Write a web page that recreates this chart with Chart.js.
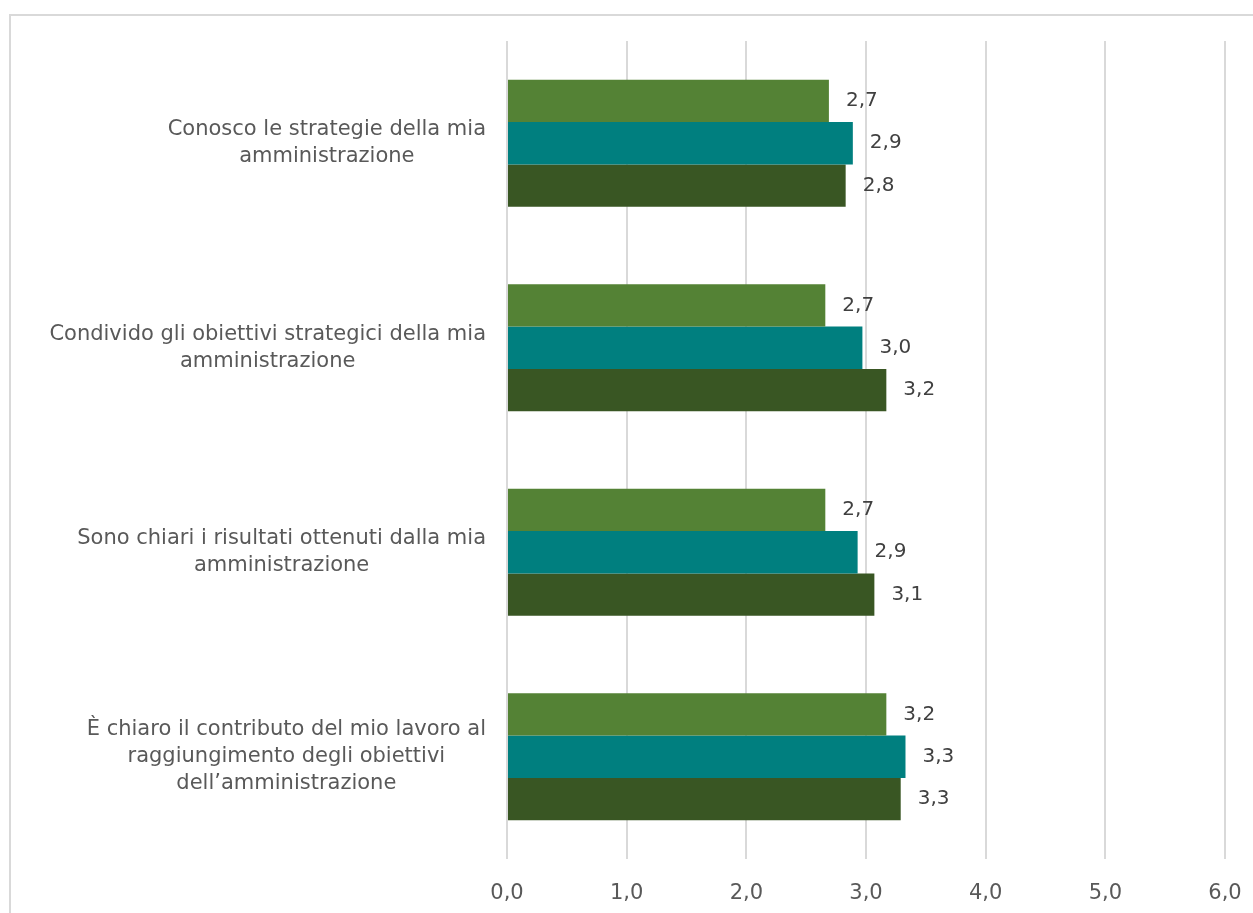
<!DOCTYPE html>
<html>
<head>
<meta charset="utf-8">
<script src="https://cdn.jsdelivr.net/npm/chart.js@4/dist/chart.umd.min.js"></script>
<style>
  body { margin: 0; background: #fff; overflow: hidden; }
  #frame { position: absolute; left: 9px; top: 14px; width: 1400px; height: 1000px;
           border-top: 2px solid #d9d9d9; border-left: 2px solid #d9d9d9; }
  #wrap { position: absolute; left: 0; top: 0; width: 1253px; height: 913px; }
</style>
</head>
<body>
<div id="frame"></div>
<div id="wrap"><canvas id="myChart" width="1253" height="913"></canvas></div>
<script>
const categories = [
    ['Conosco le strategie della mia', 'amministrazione'],
    ['Condivido gli obiettivi strategici della mia', 'amministrazione'],
    ['Sono chiari i risultati ottenuti dalla mia', 'amministrazione'],
    ['È chiaro il contributo del mio lavoro al', 'raggiungimento degli obiettivi', 'dell\u2019amministrazione']
];
const seriesNames = ['Serie 1', 'Serie 2', 'Serie 3'];
const serie1 = [2.69, 2.66, 2.66, 3.17];
const serie2 = [2.89, 2.97, 2.93, 3.33];
const serie3 = [2.83, 3.17, 3.07, 3.29];
const seriesColors = ['#548235', '#007f7f', '#395623'];
const xMin = 0, xMax = 6, xStep = 1;

const fmt = v => v.toFixed(1).replace('.', ',');
const FONT = "'DejaVu Sans', Verdana, sans-serif";

// value labels to the right of each bar
const valueLabels = {
    id: 'valueLabels',
    afterDatasetsDraw(chart) {
        const ctx = chart.ctx;
        ctx.save();
        ctx.font = '20px ' + FONT;
        ctx.fillStyle = '#404040';
        ctx.textAlign = 'left';
        ctx.textBaseline = 'middle';
        chart.data.datasets.forEach((ds, i) => {
            chart.getDatasetMeta(i).data.forEach((bar, j) => {
                ctx.fillText(fmt(ds.data[j]), bar.x + 17, bar.y);
            });
        });
        ctx.restore();
    }
};

// category labels: lines centred on each other, block right-aligned next to the axis
const categoryLabels = {
    id: 'categoryLabels',
    afterDraw(chart) {
        const ctx = chart.ctx;
        const yScale = chart.scales.y;
        const right = 486, lineH = 27;
        ctx.save();
        ctx.font = '21px ' + FONT;
        ctx.fillStyle = '#595959';
        ctx.textAlign = 'center';
        ctx.textBaseline = 'middle';
        categories.forEach((lines, i) => {
            const w = Math.max(...lines.map(l => ctx.measureText(l).width));
            const cx = right - w / 2;
            const cy = yScale.getPixelForValue(i);
            lines.forEach((l, k) => {
                ctx.fillText(l, cx, cy + (k - (lines.length - 1) / 2) * lineH);
            });
        });
        ctx.restore();
    }
};

new Chart(document.getElementById('myChart'), {
    type: 'bar',
    data: {
        labels: categories,
        datasets: [serie1, serie2, serie3].map((d, i) => ({
            label: seriesNames[i],
            data: d,
            backgroundColor: seriesColors[i],
            categoryPercentage: 0.62,
            barPercentage: 1.0
        }))
    },
    options: {
        indexAxis: 'y',
        responsive: false,
        animation: false,
        layout: { padding: { top: 41, right: 28, left: 0, bottom: 0 } },
        plugins: {
            legend: { display: false },
            tooltip: { enabled: false }
        },
        scales: {
            x: {
                min: xMin,
                max: xMax,
                ticks: {
                    stepSize: xStep,
                    padding: 22,
                    color: '#595959',
                    font: { family: FONT, size: 21 },
                    callback: v => fmt(v)
                },
                grid: { color: '#d9d9d9', lineWidth: 2, drawTicks: false },
                border: { display: false },
                afterFit: s => {
                    s.height = 54;
                    s.paddingLeft = 0;
                    s.paddingRight = 0;
                }
            },
            y: {
                ticks: { display: false },
                grid: { display: false },
                border: { display: false },
                afterFit: s => { s.width = 507; }
            }
        }
    },
    plugins: [valueLabels, categoryLabels]
});
</script>
</body>
</html>
